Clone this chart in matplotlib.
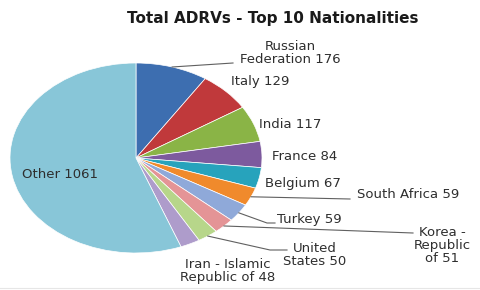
import numpy as np
import matplotlib.pyplot as plt

title = "Total ADRVs - Top 10 Nationalities"
names = ["Russian\nFederation", "Italy", "India", "France", "Belgium",
         "South Africa", "Turkey", "Korea -\nRepublic\nof", "United\nStates",
         "Iran - Islamic\nRepublic of", "Other"]
counts = [176, 129, 117, 84, 67, 59, 59, 51, 50, 48, 1061]
colors = ["#3D6EB0", "#C0393B", "#8AB446", "#7D5A9E", "#27A3BC", "#F08A2C",
          "#8FA9D9", "#E49496", "#B7D68A", "#AE9CCB", "#88C6D8"]

# label centres and leader elbows in pixel coordinates of the 480x290 picture
label_px = [(290, 53), (260, 82), (290, 125), (305, 157), (303, 183),
            (408, 195), (309, 219), (442, 245), (315, 255), (228, 271), (60, 175)]
leader_px = {0: [(233, 63)], 5: [(350, 199)], 6: [(267, 223), (275, 223)],
             7: [(413, 233)], 8: [(270, 250), (287, 250)]}

CX, CY, RX, RY = 136, 158, 126, 95
W, H = 480, 290


def px(p):
    return ((p[0] - CX) / RX, (CY - p[1]) / RY)


fig = plt.figure(figsize=(4.8, 2.9), dpi=100)
ax = fig.add_axes([0, 0, 1, 1])
wedges, _ = ax.pie(counts, colors=colors, startangle=90, counterclock=False,
                   wedgeprops=dict(edgecolor="white", linewidth=0.5))
ax.set_aspect("auto")
ax.set_xlim(-CX / RX, (W - CX) / RX)
ax.set_ylim((CY - H) / RY, CY / RY)
ax.axis("off")

txt = "#2e2e2e"
for i, (name, c) in enumerate(zip(names, counts)):
    x, y = px(label_px[i])
    ax.text(x, y, f"{name} {c}", ha="center", va="center", fontsize=9.5,
            color=txt, linespacing=1.0)
    if i in leader_px:
        w = wedges[i]
        mid = np.deg2rad((w.theta1 + w.theta2) / 2)
        pts = [(np.cos(mid), np.sin(mid))] + [px(p) for p in leader_px[i]]
        xs, ys = zip(*pts)
        ax.plot(xs, ys, color="#606060", linewidth=0.8)

fig.text(273 / W, 1 - 18 / H, title, ha="center", va="center",
         fontsize=11, fontweight="bold", color="#1a1a1a")
fig.add_artist(plt.Line2D([0, 1], [1 - 288 / H] * 2, color="#e6e6e6",
                          linewidth=0.8, transform=fig.transFigure))

fig.savefig("out.png", dpi=100)
